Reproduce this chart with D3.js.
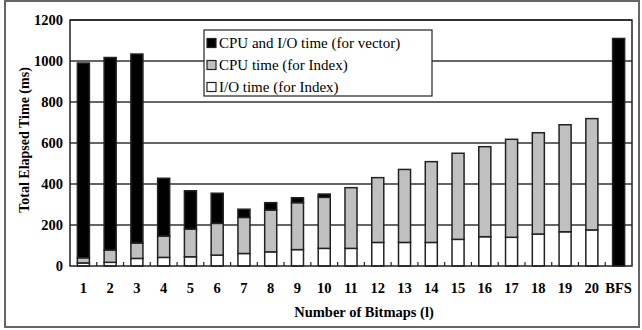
<!DOCTYPE html>
<html lang="en">
<head>
<meta charset="utf-8" />
<script src="https://d3js.org/d3.v7.min.js"></script>
<style>
    body { margin: 0; background: #fff; }
    text { font-family: 'Liberation Serif', 'Times New Roman', serif; }
</style>
</head>
<body>
<div id="chart"></div>
<script>
    // categories (number of bitmaps)
    var categories = ["1", "2", "3", "4", "5", "6", "7", "8", "9", "10", "11", "12", "13", "14", "15", "16", "17", "18", "19", "20", "BFS"];
    // I/O time (for Index) - bottom white segment
    var ioIndex = [15, 18, 37, 42, 45, 53, 61, 69, 80, 86, 86, 115, 115, 115, 130, 143, 140, 156, 167, 176, 0];
    // CPU time (for Index) - middle grey segment
    var cpuIndex = [25, 60, 75, 104, 135, 155, 176, 204, 229, 249, 296, 316, 356, 394, 420, 439, 478, 494, 522, 543, 0];
    // CPU and I/O time (for vector) - top black segment
    var cpuIoVector = [950, 939, 922, 282, 187, 147, 40, 36, 24, 16, 0, 0, 0, 0, 0, 0, 0, 0, 0, 0, 1110];
    var yTicks = [0, 200, 400, 600, 800, 1000, 1200];

    var seriesNames = ["CPU and I/O time (for vector)", "CPU time (for Index)", "I/O time (for Index)"];
    var seriesColors = ["#000000", "#c0c0c0", "#ffffff"];

    var W = 642, H = 330;
    // plot area edges (note: "top" is reserved on window, so use pTop)
    var pLeft = 70, pRight = 632, pTop = 20, pBottom = 266;

    var rows = categories.map(function (c, i) {
        return { cat: c, io: ioIndex[i], cpu: cpuIndex[i], vec: cpuIoVector[i] };
    });

    var svg = d3.select("#chart").append("svg")
        .attr("width", W).attr("height", H);

    svg.append("rect").attr("x", 0).attr("y", 0).attr("width", W).attr("height", H).attr("fill", "#fff");

    // outer frame
    svg.append("rect")
        .attr("x", 5).attr("y", 1).attr("width", 634).attr("height", 326)
        .attr("fill", "none").attr("stroke", "#666").attr("stroke-width", 2);

    var x = d3.scaleBand().domain(categories).range([pLeft, pRight])
        .paddingInner(0.55).paddingOuter(0.275);
    var y = d3.scaleLinear().domain([0, 1200]).range([pBottom, pTop]);

    // gridlines
    svg.append("g").selectAll("line").data(yTicks.slice(1)).enter().append("line")
        .attr("x1", pLeft).attr("x2", pRight)
        .attr("y1", function (d) { return y(d); }).attr("y2", function (d) { return y(d); })
        .attr("stroke", "#333").attr("stroke-width", 1.5);

    // stacked bars
    var stack = d3.stack().keys(["io", "cpu", "vec"]);
    var layers = stack(rows);
    var fills = { io: seriesColors[2], cpu: seriesColors[1], vec: seriesColors[0] };

    svg.append("g").selectAll("g").data(layers).enter().append("g")
        .attr("fill", function (d) { return fills[d.key]; })
        .selectAll("rect").data(function (d) { return d.filter(function (s) { return s[1] - s[0] > 0; }); })
        .enter().append("rect")
        .attr("x", function (d) { return x(d.data.cat); })
        .attr("width", x.bandwidth())
        .attr("y", function (d) { return y(d[1]); })
        .attr("height", function (d) { return y(d[0]) - y(d[1]); })
        .attr("stroke", "#222").attr("stroke-width", 1.5);

    // plot border
    svg.append("rect")
        .attr("x", pLeft).attr("y", pTop).attr("width", pRight - pLeft).attr("height", pBottom - pTop)
        .attr("fill", "none").attr("stroke", "#222").attr("stroke-width", 1.5);

    // small ticks between categories
    var step = x.step();
    svg.append("g").selectAll("line").data(categories.slice(1)).enter().append("line")
        .attr("x1", function (d) { return x(d) - step * x.paddingInner() / 2; })
        .attr("x2", function (d) { return x(d) - step * x.paddingInner() / 2; })
        .attr("y1", pBottom).attr("y2", pBottom - 4)
        .attr("stroke", "#222").attr("stroke-width", 1.2);

    // y tick labels
    svg.append("g").selectAll("text").data(yTicks).enter().append("text")
        .attr("x", 63).attr("y", function (d) { return y(d) + 5; })
        .attr("text-anchor", "end")
        .attr("font-size", 14.5).attr("font-weight", "bold")
        .text(function (d) { return d; });

    // x tick labels
    svg.append("g").selectAll("text").data(categories).enter().append("text")
        .attr("x", function (d) { return x(d) + x.bandwidth() / 2; })
        .attr("y", 293)
        .attr("text-anchor", "middle")
        .attr("font-size", 14.5).attr("font-weight", "bold")
        .text(function (d) { return d; });

    // axis titles
    svg.append("text")
        .attr("transform", "translate(29,140) rotate(-90)")
        .attr("text-anchor", "middle")
        .attr("font-size", 14).attr("font-weight", "bold")
        .text("Total Elapsed Time (ms)");

    svg.append("text")
        .attr("x", 364).attr("y", 317)
        .attr("text-anchor", "middle")
        .attr("font-size", 14.5).attr("font-weight", "bold")
        .text("Number of Bitmaps (l)");

    // legend
    var legend = svg.append("g");
    legend.append("rect")
        .attr("x", 204).attr("y", 30).attr("width", 228).attr("height", 66)
        .attr("fill", "#fff").attr("stroke", "#222").attr("stroke-width", 1.2);

    var items = legend.selectAll("g.item").data(seriesNames).enter().append("g")
        .attr("class", "item")
        .attr("transform", function (d, i) { return "translate(207," + (43 + i * 22) + ")"; });

    items.append("rect")
        .attr("x", 0).attr("y", -4.5).attr("width", 9).attr("height", 9)
        .attr("fill", function (d, i) { return seriesColors[i]; })
        .attr("stroke", "#222").attr("stroke-width", 1.2);

    items.append("text")
        .attr("x", 12).attr("y", 5)
        .attr("font-size", 15)
        .text(function (d) { return d; });
</script>
</body>
</html>
